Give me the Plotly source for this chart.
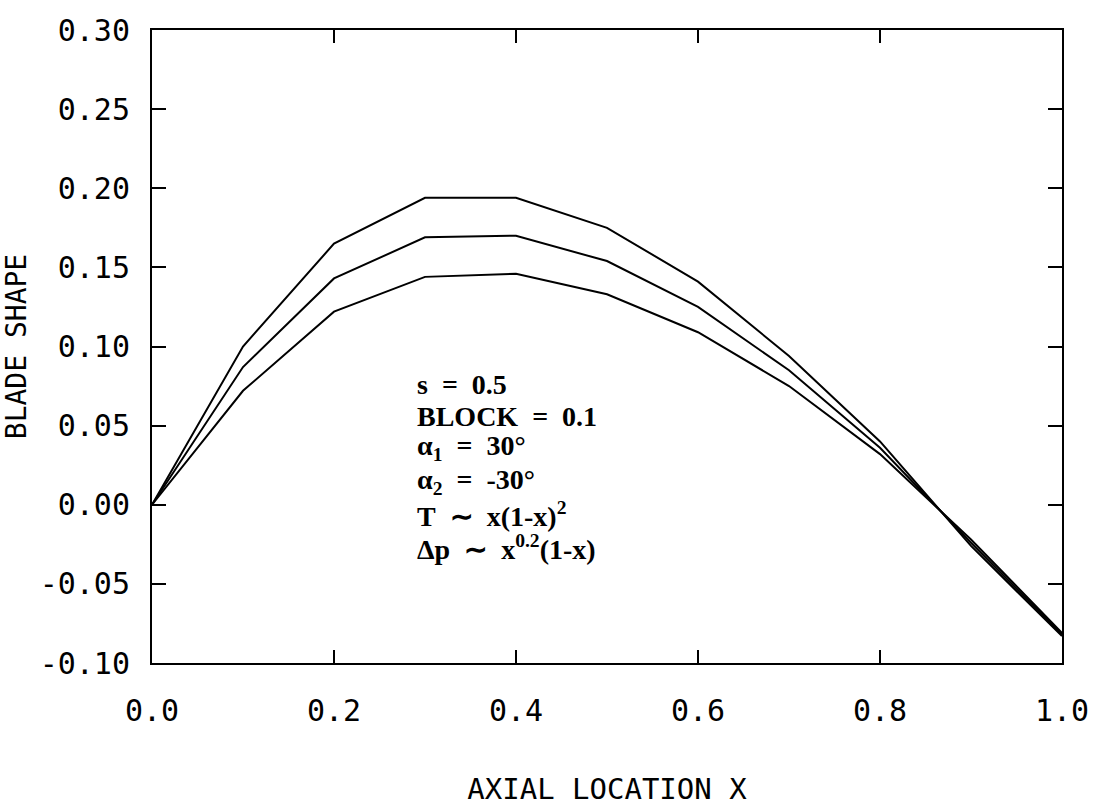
import plotly.graph_objects as go

# ---- data ----
x_loc = [0.0, 0.1, 0.2, 0.3, 0.4, 0.5, 0.6, 0.7, 0.8, 0.9, 1.0]
shape_upper = [0.0, 0.100, 0.165, 0.194, 0.194, 0.175, 0.141, 0.094, 0.040, -0.026, -0.083]
shape_middle = [0.0, 0.087, 0.143, 0.169, 0.170, 0.154, 0.125, 0.085, 0.036, -0.024, -0.082]
shape_lower = [0.0, 0.072, 0.122, 0.144, 0.146, 0.133, 0.109, 0.075, 0.032, -0.022, -0.081]

x_tickvals = [0.0, 0.2, 0.4, 0.6, 0.8, 1.0]
x_ticktext = ["0.0", "0.2", "0.4", "0.6", "0.8", "1.0"]
y_tickvals = [-0.10, -0.05, 0.00, 0.05, 0.10, 0.15, 0.20, 0.25, 0.30]
y_ticktext = ["-0.10", "-0.05", "0.00", "0.05", "0.10", "0.15", "0.20", "0.25", "0.30"]

SP = "&nbsp;&nbsp;"
note_lines = [
    "s" + SP + "=" + SP + "0.5",
    "BLOCK" + SP + "=" + SP + "0.1",
    "α<sub>1</sub>" + SP + "=" + SP + "30°",
    "α<sub>2</sub>" + SP + "=" + SP + "-30°",
    "T" + SP + "∼" + SP + "x(1-x)<sup>2</sup>",
    "Δp" + SP + "∼" + SP + "x<sup>0.2</sup>(1-x)",
]
note_y = [0.076, 0.056, 0.036, 0.015, -0.006, -0.027]

fig = go.Figure()
for ys in (shape_upper, shape_middle, shape_lower):
    fig.add_trace(go.Scatter(x=x_loc, y=ys, mode="lines",
                             line=dict(color="black", width=2), showlegend=False))

for txt, yy in zip(note_lines, note_y):
    fig.add_annotation(x=0.289, y=yy, xref="x", yref="y", text="<b>" + txt + "</b>",
                       showarrow=False, xanchor="left", yanchor="middle",
                       font=dict(family="Liberation Serif", size=28, color="black"))

tick_font = dict(family="DejaVu Sans Mono", size=30, color="black")
fig.update_xaxes(range=[0, 1], tickvals=x_tickvals, ticktext=x_ticktext,
                 showline=True, linecolor="black", linewidth=2, mirror="ticks",
                 ticks="inside", ticklen=13, tickwidth=2, tickcolor="black",
                 showgrid=False, zeroline=False, tickfont=tick_font,
                 ticklabelstandoff=20, ticklabeloverflow="allow",
                 title=dict(text="AXIAL LOCATION X", standoff=52,
                            font=dict(family="DejaVu Sans Mono", size=29, color="black")))
fig.update_yaxes(range=[-0.1, 0.3], tickvals=y_tickvals, ticktext=y_ticktext,
                 showline=True, linecolor="black", linewidth=2, mirror="ticks",
                 ticks="inside", ticklen=14, tickwidth=2, tickcolor="black",
                 showgrid=False, zeroline=False, tickfont=tick_font,
                 ticklabelstandoff=14, ticklabeloverflow="allow",
                 title=dict(text="BLADE SHAPE", standoff=8,
                            font=dict(family="DejaVu Sans Mono", size=28, color="black")))
fig.update_layout(width=1102, height=812, plot_bgcolor="white", paper_bgcolor="white",
                  margin=dict(l=151, r=40, t=17, b=146))
fig.write_html("out.html")
